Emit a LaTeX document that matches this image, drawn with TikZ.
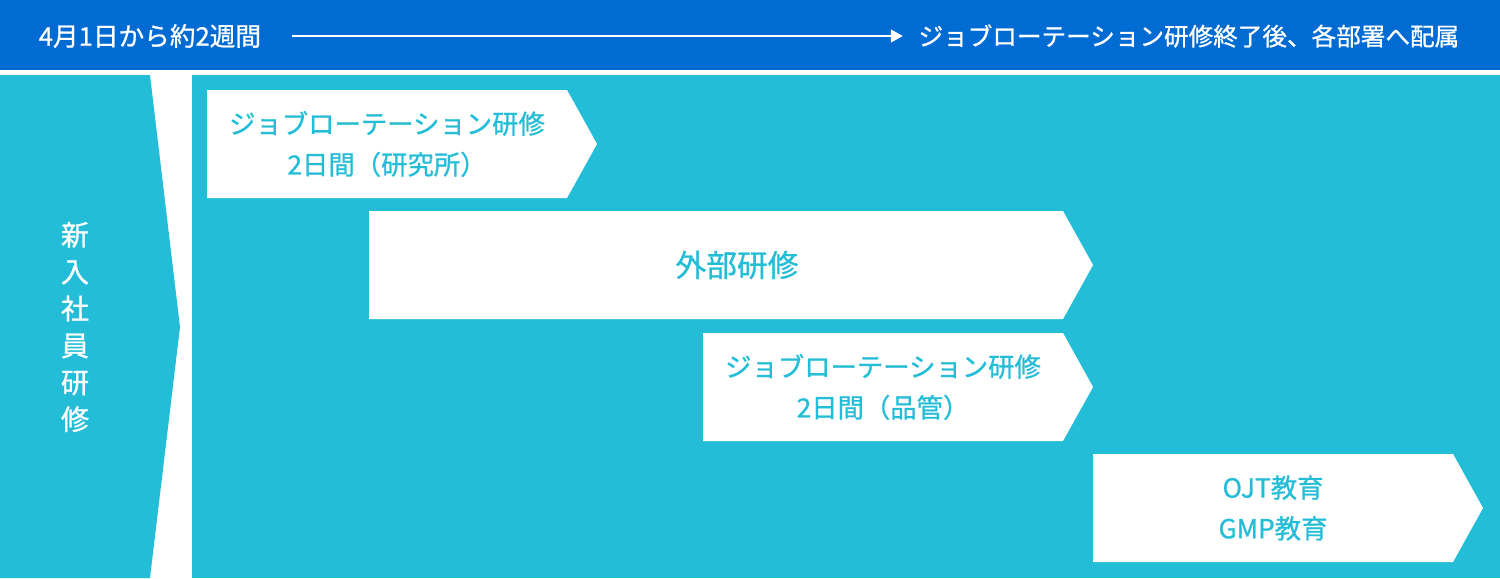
\documentclass[tikz,border=0pt]{standalone}
\usepackage{fontspec}
\setmainfont{Noto Sans CJK JP}[FakeBold=0.9]
\usepackage{xcolor}
\usetikzlibrary{arrows.meta}
\definecolor{azul}{HTML}{006CD3}
\definecolor{celeste}{HTML}{23BDD7}

\begin{document}
\begin{tikzpicture}[x=0.02cm,y=-0.02cm,line width=0.9pt]
\tikzstyle{etapa}=[fill=white]
\tikzstyle{texto}=[text=celeste,align=center,inner sep=0pt,font=\fontsize{15}{23.2}\selectfont]
\tikzstyle{cabecera}=[text=white,inner sep=0pt,font=\fontsize{14}{17}\selectfont]
\useasboundingbox (0,0) rectangle (1500,578);
%fondo
\fill[white] (0,0) rectangle (1500,578);
\fill[azul] (0,0) rectangle (1500,70);
\fill[celeste] (0,75) -- (150,75) -- (180,327) -- (150,578) -- (0,578) -- cycle;
\fill[celeste] (192,75) rectangle (1500,578);
%etapas
\fill[etapa] (207,90) -- (567,90) -- (597,144) -- (567,198) -- (207,198) -- cycle;
\fill[etapa] (369,211) -- (1063,211) -- (1093,265) -- (1063,319) -- (369,319) -- cycle;
\fill[etapa] (703,333) -- (1063,333) -- (1093,387) -- (1063,441) -- (703,441) -- cycle;
\fill[etapa] (1093,454) -- (1453,454) -- (1483,508) -- (1453,562) -- (1093,562) -- cycle;
%textos
\node[cabecera,anchor=west,font=\fontsize{14.6}{17}\selectfont] (inicio) at (38,36) {4月1日から約2週間};
\node[cabecera,anchor=east] (fin) at (1460,36) {ジョブローテーション研修終了後、各部署へ配属};
\node[text=white,align=center,inner sep=0pt,font=\fontsize{16}{21}\selectfont] (nuevos) at (75,327) {新\\入\\社\\員\\研\\修};
\node[texto] (rotacion1) at (387,144) {ジョブローテーション研修\\2日間（研究所）};
\node[texto,font=\fontsize{17.5}{20}\selectfont] (externo) at (737,265) {外部研修};
\node[texto] (rotacion2) at (883,387) {ジョブローテーション研修\\2日間（品管）};
\node[texto] (ojt) at (1273,508) {OJT教育\\GMP教育};
%flecha
\draw[white,-{Triangle[length=0.24cm,width=0.26cm]},shorten <=0.6cm,shorten >=0.3cm] (inicio) -- (fin);
\end{tikzpicture}
\end{document}
